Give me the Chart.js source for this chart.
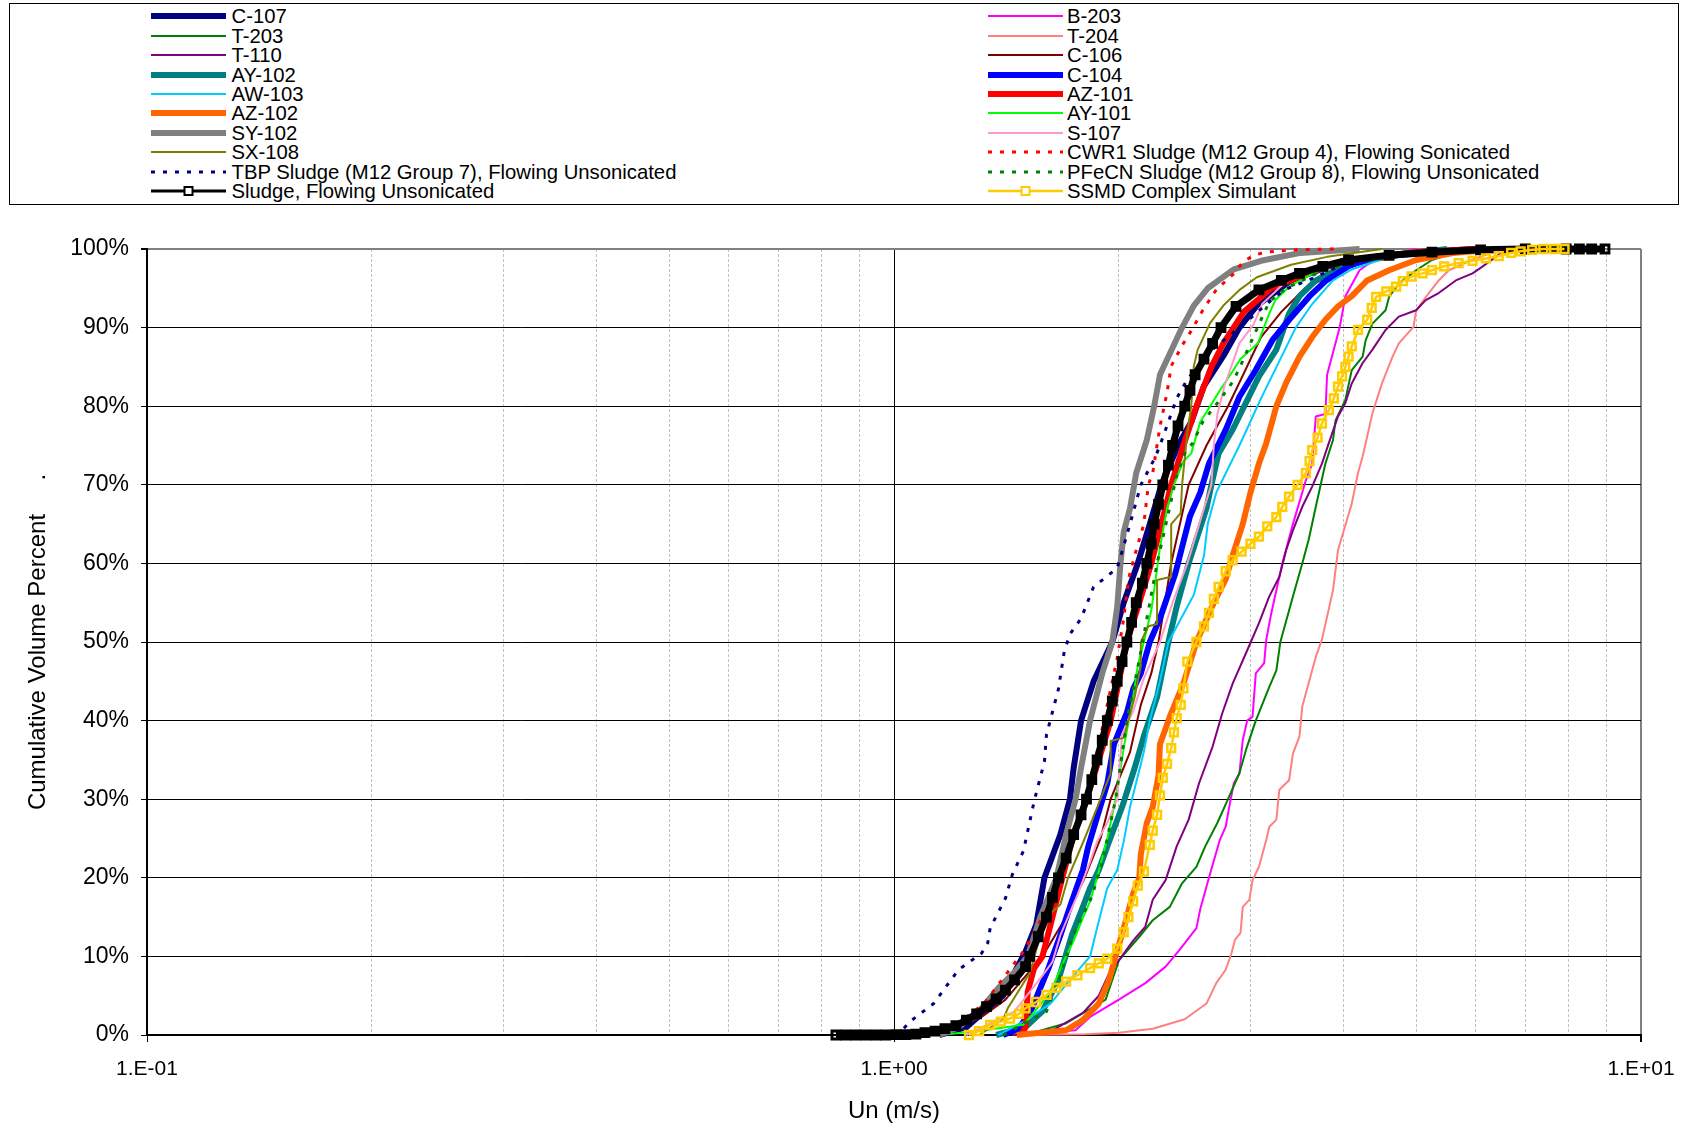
<!DOCTYPE html>
<html><head><meta charset="utf-8">
<script src="https://cdn.jsdelivr.net/npm/chart.js@4.4.1/dist/chart.umd.min.js"></script>
<style>
html,body{margin:0;padding:0;background:#fff;}
body{width:1682px;height:1128px;position:relative;overflow:hidden;font-family:"Liberation Sans",Arial,sans-serif;}
#legend{position:absolute;left:9px;top:3px;width:1668px;height:200px;border:1px solid #000;}
.item{position:absolute;height:20px;font-size:20.3px;line-height:20px;white-space:nowrap;color:#000;}
.item svg{position:absolute;left:0;top:0;overflow:visible;}
#wrap{position:absolute;left:0;top:210px;width:1682px;height:918px;}
</style></head>
<body>
<div id="legend"></div>
<div id="wrap"><canvas id="c"></canvas></div>
<script>
// ---- data (x = Un in m/s, y = cumulative volume percent) ----
const C107 = [[1.15,0],[1.25,1],[1.32,3],[1.40,5],[1.46,8.5],[1.50,10.6],[1.55,14],[1.59,20],[1.67,25.5],[1.72,30],[1.74,34],[1.78,40],[1.85,45],[1.96,50],[2.03,55],[2.12,60],[2.20,65],[2.28,70],[2.40,75],[2.50,78],[2.60,82.6],[2.76,86.4],[2.90,90],[3.06,92.8],[3.40,96],[4.0,98.5],[5.0,99.6],[6.0,100]];
const B203 = [[1.44,0],[1.75,0.6],[1.83,2.3],[2.0,4.5],[2.17,6.6],[2.31,8.7],[2.41,10.8],[2.54,13.6],[2.57,16],[2.64,20],[2.73,24.8],[2.78,26.5],[2.81,29],[2.85,32],[2.90,33.3],[2.93,37.5],[2.97,40],[3.02,40.5],[3.05,46],[3.13,47.3],[3.15,50.3],[3.20,53.7],[3.31,60],[3.42,65],[3.56,70.6],[3.63,72.7],[3.67,78.7],[3.78,79],[3.80,84],[3.95,90],[4.02,94],[4.2,97.3],[4.3,98],[4.5,99],[5.0,100]];
const T203 = [[1.5,0],[1.70,1.5],[1.92,4.5],[2.0,9.5],[2.13,12.5],[2.22,14.6],[2.34,16.3],[2.43,19.3],[2.54,21.4],[2.61,24],[2.71,27],[2.80,30],[2.90,33.3],[2.96,36.3],[3.05,40],[3.18,44.3],[3.25,46.4],[3.29,50],[3.42,55.8],[3.52,60],[3.59,63],[3.67,67.2],[3.78,72.7],[3.87,75.7],[3.90,78.2],[4.02,80.8],[4.10,84.6],[4.24,86.3],[4.28,88.4],[4.37,90.5],[4.55,92.2],[4.60,93.9],[4.74,95.6],[5.0,97.3],[5.25,98.6],[5.6,99.5],[6.5,100]];
const T204 = [[1.50,0],[1.8,0.1],[2.0,0.3],[2.22,0.8],[2.45,2],[2.62,4],[2.70,6.6],[2.78,8.3],[2.83,10.4],[2.86,12.1],[2.91,13],[2.93,16.3],[2.99,17.2],[3.02,19.7],[3.08,21.4],[3.15,24.8],[3.18,26.5],[3.25,27.4],[3.28,31.2],[3.38,32.4],[3.42,35.8],[3.49,38],[3.52,41.8],[3.56,43.5],[3.67,48.1],[3.74,50.3],[3.87,56.6],[3.93,61.7],[4.10,67.6],[4.18,71.5],[4.24,73.6],[4.37,79.1],[4.50,82.9],[4.65,86.3],[4.74,88],[4.96,90.1],[5.0,92.2],[5.2,94.4],[5.36,96],[5.53,97.3],[5.9,98.5],[6.3,99.5],[7.0,100]];
const T110 = [[1.44,0],[1.63,0.6],[1.79,2.8],[1.88,5],[1.94,7.8],[2.0,9.5],[2.09,12],[2.17,13.8],[2.22,17.2],[2.31,19.7],[2.39,24],[2.48,27.4],[2.56,32],[2.67,36.7],[2.75,40.9],[2.84,44.7],[2.96,48.6],[3.08,52.4],[3.18,55.8],[3.28,58.3],[3.35,61.7],[3.42,64.2],[3.52,67.2],[3.63,69.8],[3.74,72.7],[3.82,75.3],[3.93,78.7],[4.02,80.4],[4.10,82.9],[4.24,85.5],[4.37,87.2],[4.55,89.7],[4.74,91.4],[5.0,92.2],[5.15,93.5],[5.36,94.4],[5.65,96],[5.95,96.9],[6.12,97.7],[6.5,99.5],[7.0,100]];
const C106 = [[1.15,0],[1.31,2.3],[1.41,4.5],[1.58,10],[1.70,15],[1.80,20],[1.89,25],[1.95,30],[2.07,36],[2.14,42],[2.21,46],[2.26,50],[2.35,60],[2.48,70],[2.62,75],[2.80,80],[2.90,83],[3.10,88.8],[3.30,92],[3.55,95],[4.1,98],[5.5,100]];
const AY102 = [[1.37,0],[1.50,1],[1.58,3],[1.66,7],[1.73,12.7],[1.78,15.7],[1.83,18.7],[1.88,21],[1.94,24.6],[2.02,29],[2.10,34],[2.16,38],[2.25,43],[2.33,50],[2.39,54.5],[2.48,60],[2.62,67],[2.66,70],[2.72,74],[2.84,77],[3.08,83.8],[3.25,87.2],[3.38,91.8],[3.49,94],[3.67,96],[4.0,97.8],[4.5,99],[5.5,100]];
const C104 = [[1.40,0],[1.47,0.8],[1.53,3.4],[1.57,6],[1.61,8.5],[1.67,12.7],[1.73,17],[1.79,21],[1.82,24],[1.86,27],[1.93,32],[1.97,37],[2.05,41],[2.09,44],[2.14,46],[2.20,50],[2.27,53],[2.38,58.7],[2.49,66],[2.57,69],[2.64,72.7],[2.78,77],[2.90,81.2],[3.05,84.6],[3.21,88.4],[3.38,91],[3.6,94],[3.79,96],[4.06,97.8],[4.4,99],[6.0,100]];
const AW103 = [[1.38,0],[1.49,1.7],[1.62,4],[1.72,7],[1.83,10],[1.87,13.6],[1.93,18.7],[1.99,21],[2.03,24.6],[2.07,29],[2.16,36],[2.20,40],[2.27,45],[2.33,50],[2.52,56],[2.60,61],[2.63,65],[2.70,69],[2.90,75],[3.10,81],[3.45,90],[3.63,93],[3.87,96],[4.1,97.4],[4.6,99],[6.0,100]];
const AZ101 = [[1.48,0],[1.50,1],[1.51,5.5],[1.54,8.5],[1.58,10],[1.63,15],[1.68,20],[1.74,25.5],[1.81,30],[1.88,35],[1.95,40],[2.00,45],[2.05,50],[2.13,55],[2.21,60],[2.28,65],[2.35,70],[2.44,75],[2.54,80],[2.66,85],[2.76,88],[2.94,92],[3.2,95],[3.6,97],[4.0,98.5],[5.0,99.6],[6.0,100]];
const AZ102 = [[1.46,0],[1.70,0.6],[1.79,1.9],[1.88,4],[1.94,7],[1.98,10],[2.05,15],[2.09,18],[2.13,20],[2.14,23],[2.18,27],[2.22,29],[2.26,33],[2.27,37],[2.34,40.5],[2.44,44.7],[2.54,50],[2.68,55],[2.78,58],[2.84,61],[2.93,65],[3.00,69],[3.08,72.7],[3.15,75.3],[3.25,80],[3.35,83],[3.49,86.3],[3.63,88.8],[3.78,91],[3.93,92.7],[4.1,94],[4.3,96],[4.6,97.3],[5.0,98.6],[5.6,99.5],[6.5,100]];
const AY101 = [[1.15,0],[1.30,0.5],[1.49,1.3],[1.58,4.2],[1.63,6],[1.68,9],[1.74,12],[1.79,14.9],[1.83,17],[1.87,20],[1.93,25],[1.98,30],[2.03,36.5],[2.09,43],[2.12,47],[2.16,50],[2.21,54],[2.24,58],[2.27,62],[2.32,67],[2.37,70],[2.44,73],[2.50,74],[2.57,78],[2.65,80],[2.73,82],[2.82,84],[2.91,86],[3.07,88],[3.18,91.8],[3.24,93.5],[3.38,95.2],[3.67,97.1],[3.9,98],[4.3,99],[5.5,100]];
const SY102 = [[1.15,0],[1.22,1],[1.30,3],[1.38,6],[1.45,8],[1.51,10],[1.57,15],[1.65,20],[1.70,25.5],[1.75,30],[1.78,34],[1.83,40],[1.90,46],[1.96,50],[1.99,54.5],[2.01,60],[2.03,64],[2.07,67],[2.11,71.5],[2.18,75.7],[2.23,80],[2.27,84],[2.43,90],[2.52,92.8],[2.63,95],[2.85,97.4],[3.1,98.5],[3.5,99.5],[4.2,100]];
const S107 = [[1.25,0],[1.45,3],[1.57,7.2],[1.63,9.3],[1.67,12.7],[1.76,17.8],[1.83,22],[1.87,24.6],[1.93,27],[1.99,30],[2.02,38.2],[2.09,41.2],[2.16,45.4],[2.27,50],[2.36,55],[2.47,60],[2.60,67],[2.66,70],[2.68,75],[2.71,79],[2.77,82.6],[2.90,88],[3.03,90.4],[3.11,93],[3.42,96.7],[3.7,98],[4.2,99],[5.5,100]];
const SX108 = [[1.30,0],[1.40,2],[1.42,3.4],[1.47,5.7],[1.52,7.9],[1.57,12.7],[1.60,15],[1.67,16.6],[1.71,20],[1.80,25],[1.89,30],[1.95,33.3],[1.95,37.4],[2.03,37.8],[2.10,43],[2.14,47],[2.14,50],[2.19,52],[2.25,52.3],[2.25,57.9],[2.35,58.3],[2.35,65],[2.42,66.4],[2.43,70],[2.47,76.6],[2.50,80],[2.52,85.1],[2.55,87.2],[2.65,90.6],[2.76,92.8],[2.91,94.9],[3.06,96.4],[3.4,98],[3.8,99],[4.5,100]];
const CWR1 = [[1.05,0],[1.20,1],[1.32,4],[1.42,8],[1.50,11],[1.60,16],[1.70,22],[1.78,28],[1.86,35],[1.93,42],[1.99,48],[2.03,53],[2.06,58],[2.11,61.7],[2.16,65],[2.19,70],[2.22,71.5],[2.27,77.4],[2.32,81.7],[2.35,85.1],[2.43,87.7],[2.50,89.6],[2.59,92.2],[2.70,94.8],[2.86,97],[2.93,98.3],[3.03,99.2],[3.14,99.6],[3.46,99.9],[3.9,100]];
const TBP = [[1.0,0],[1.03,0.8],[1.05,1.7],[1.13,4],[1.22,8.3],[1.31,10.4],[1.335,11.7],[1.345,13.6],[1.41,17.4],[1.44,20.4],[1.49,23.4],[1.54,29.7],[1.59,34.8],[1.60,38.2],[1.66,44],[1.69,48.8],[1.72,51],[1.78,53],[1.85,57],[1.99,59.4],[2.07,65],[2.14,70],[2.24,73.6],[2.29,76],[2.39,81],[2.47,83.4],[2.65,87],[2.90,90],[3.20,93.5],[3.33,94.8],[3.60,96.1],[3.84,97.3],[3.98,98],[4.5,99.2],[5.5,100]];
const PFECN = [[1.40,0],[1.60,3],[1.68,8.3],[1.71,10.8],[1.75,13.4],[1.84,17.6],[1.90,22],[1.98,30],[2.05,40],[2.13,47.7],[2.20,55],[2.25,60],[2.33,66.4],[2.39,71.2],[2.45,74],[2.51,75.3],[2.59,78],[2.73,80.8],[2.84,83.1],[2.90,84.8],[3.0,88],[3.10,91],[3.18,93.3],[3.35,95],[3.7,97],[4.0,98],[4.6,99.3],[5.5,100]];
const SLUDGE = [[0.836,0],[0.862,0],[0.889,0],[0.917,0],[0.946,0],[0.975,0],[1.006,0.05],[1.037,0.05],[1.07,0.1],[1.10,0.3],[1.135,0.5],[1.17,0.8],[1.21,1.2],[1.25,1.9],[1.29,2.7],[1.33,3.6],[1.37,4.6],[1.41,5.7],[1.45,7],[1.50,8.7],[1.52,10],[1.56,12.5],[1.60,15],[1.63,17.5],[1.66,20],[1.70,22.5],[1.74,25.5],[1.78,28],[1.81,30],[1.84,32.5],[1.87,35],[1.90,37.5],[1.93,40],[1.96,42.5],[1.99,45],[2.02,47.5],[2.05,50],[2.08,52.5],[2.11,55],[2.15,57.5],[2.18,60],[2.21,62.5],[2.23,65],[2.26,67.5],[2.29,70],[2.33,72.5],[2.36,75],[2.40,77.5],[2.45,80],[2.49,82],[2.53,84],[2.60,86],[2.67,88],[2.74,90],[2.87,92.7],[3.08,94.8],[3.3,96],[3.49,96.9],[3.75,97.8],[4.06,98.6],[4.6,99.2],[5.25,99.6],[6.1,99.9],[7.0,100],[7.94,100],[8.27,100],[8.59,100],[8.95,100]];
const SSMD = [[1.26,0],[1.30,0.5],[1.345,1.3],[1.39,1.7],[1.43,2.1],[1.47,2.7],[1.50,3.4],[1.55,4.2],[1.60,5.1],[1.65,6],[1.70,6.8],[1.76,7.6],[1.83,8.5],[1.88,9.1],[1.93,9.7],[1.99,11],[2.03,13.1],[2.06,15],[2.09,17],[2.12,19],[2.16,20.8],[2.20,24.2],[2.22,26],[2.25,28],[2.27,30.5],[2.29,32.7],[2.32,34.5],[2.35,36.5],[2.37,38.5],[2.39,40.3],[2.42,42],[2.44,44.1],[2.47,47.5],[2.54,50],[2.60,52],[2.64,53.7],[2.68,55.5],[2.72,57],[2.78,59],[2.84,60.4],[2.92,61.5],[3.0,62.5],[3.08,63.4],[3.16,64.7],[3.25,65.9],[3.31,67.2],[3.38,68.5],[3.47,70],[3.56,71.5],[3.60,73],[3.63,74.4],[3.69,76],[3.74,77.8],[3.82,79.5],[3.88,81],[3.93,82.5],[3.98,83.8],[4.02,85],[4.06,86.3],[4.10,87.6],[4.18,89.7],[4.30,91],[4.36,92.5],[4.42,93.9],[4.56,94.6],[4.70,95.2],[4.80,95.9],[4.93,96.5],[5.10,96.9],[5.25,97.3],[5.45,97.8],[5.70,98.2],[5.95,98.5],[6.20,98.8],[6.45,99.1],[6.70,99.5],[6.90,99.7],[7.15,99.9],[7.40,100],[7.65,100],[7.90,100]];

const seriesNames = ['C-107','B-203','T-203','T-204','T-110','C-106','AY-102','C-104','AW-103','AZ-101','AZ-102','AY-101','SY-102','S-107','SX-108','CWR1 Sludge (M12 Group 4), Flowing Sonicated','TBP Sludge (M12 Group 7), Flowing Unsonicated','PFeCN Sludge (M12 Group 8), Flowing Unsonicated','Sludge, Flowing Unsonicated','SSMD Complex Simulant'];
const seriesData = [C107,B203,T203,T204,T110,C106,AY102,C104,AW103,AZ101,AZ102,AY101,SY102,S107,SX108,CWR1,TBP,PFECN,SLUDGE,SSMD];

const xTickValues = [0.1,0.2,0.3,0.4,0.5,0.6,0.7,0.8,0.9,1,2,3,4,5,6,7,8,9,10];
const xTickLabels = ['1.E-01','','','','','','','','','1.E+00','','','','','','','','','1.E+01'];
const yTickValues = [0,10,20,30,40,50,60,70,80,90,100];
const yTickLabels = ['0%','10%','20%','30%','40%','50%','60%','70%','80%','90%','100%'];

// ---- styles ----
const styles = {
  'C-107':{c:'#000080',w:6},
  'B-203':{c:'#FF00FF',w:2},
  'T-203':{c:'#008000',w:2},
  'T-204':{c:'#FF8080',w:2},
  'T-110':{c:'#800080',w:2},
  'C-106':{c:'#800000',w:2},
  'AY-102':{c:'#008080',w:6},
  'C-104':{c:'#0000FF',w:6},
  'AW-103':{c:'#00CCFF',w:2},
  'AZ-101':{c:'#FF0000',w:6},
  'AZ-102':{c:'#FF6600',w:6},
  'AY-101':{c:'#00FF00',w:2},
  'SY-102':{c:'#808080',w:6},
  'S-107':{c:'#FF99CC',w:2},
  'SX-108':{c:'#808000',w:2},
  'CWR1 Sludge (M12 Group 4), Flowing Sonicated':{c:'#FF0000',w:3,d:[4,8]},
  'TBP Sludge (M12 Group 7), Flowing Unsonicated':{c:'#000080',w:3,d:[4,8]},
  'PFeCN Sludge (M12 Group 8), Flowing Unsonicated':{c:'#008000',w:3,d:[4,8]},
  'Sludge, Flowing Unsonicated':{c:'#000000',w:3,pw:7,m:true,r:5.5,pb:3},
  'SSMD Complex Simulant':{c:'#FFCC00',w:2.5,m:true,r:5.5,pb:2.5}
};

// ---- HTML legend (two columns) ----
const leftCol = ['C-107','T-203','T-110','AY-102','AW-103','AZ-102','SY-102','SX-108','TBP Sludge (M12 Group 7), Flowing Unsonicated','Sludge, Flowing Unsonicated'];
const rightCol = ['B-203','T-204','C-106','C-104','AZ-101','AY-101','S-107','CWR1 Sludge (M12 Group 4), Flowing Sonicated','PFeCN Sludge (M12 Group 8), Flowing Unsonicated','SSMD Complex Simulant'];
const leg = document.body;
function addItem(name, col, row) {
  const s = styles[name];
  const cy = 16.3 + 19.42 * row;
  const lx = col === 0 ? 151 : 988;
  const tx = col === 0 ? 231.5 : 1067;
  const div = document.createElement('div');
  div.className = 'item';
  div.style.left = lx + 'px';
  div.style.top = (cy - 10) + 'px';
  let svg = '<svg width="76" height="20"><line x1="0" y1="10" x2="75" y2="10" stroke="' + s.c + '" stroke-width="' + s.w + '"' + (s.d ? ' stroke-dasharray="' + s.d.join(',') + '"' : '') + '/>';
  if (s.m) svg += '<rect x="33.5" y="6" width="8" height="8" fill="#fff" stroke="' + s.c + '" stroke-width="2"/>';
  svg += '</svg>';
  div.innerHTML = svg + '<span style="position:absolute;left:' + (tx - lx) + 'px;top:0">' + name + '</span>';
  leg.appendChild(div);
}
leftCol.forEach((n, i) => addItem(n, 0, i));
rightCol.forEach((n, i) => addItem(n, 1, i));

// ---- chart ----
Chart.defaults.font.family = '"Liberation Sans", Arial, sans-serif';
Chart.defaults.color = '#000';
const N = seriesNames.length;
const datasets = seriesNames.map((name, i) => {
  const s = styles[name];
  return {
    label: name,
    data: seriesData[i].map(p => ({x: p[0], y: p[1]})),
    borderColor: s.c,
    borderWidth: s.pw || s.w,
    borderDash: s.d || [],
    borderJoinStyle: 'round',
    backgroundColor: 'rgba(0,0,0,0)',
    pointRadius: s.m ? s.r : 0,
    pointStyle: 'rect',
    pointBorderColor: s.c,
    pointBackgroundColor: 'rgba(0,0,0,0)',
    pointBorderWidth: s.pb || 2,
    pointHoverRadius: 0,
    tension: 0,
    fill: false,
    clip: false,
    order: N - i
  };
});
const majors = [0.1, 1, 10];
new Chart(document.getElementById('c'), {
  type: 'line',
  data: {datasets},
  options: {
    responsive: true,
    maintainAspectRatio: false,
    animation: false,
    devicePixelRatio: 1,
    events: [],
    layout: {padding: {top: 39, right: 41, left: 0, bottom: 0}},
    plugins: {legend: {display: false}, tooltip: {enabled: false}},
    scales: {
      x: {
        type: 'logarithmic',
        min: 0.1, max: 10,
        afterBuildTicks: (sc) => { sc.ticks = xTickValues.map(v => ({value: v})); },
        afterFit: (sc) => { sc.height = 93; },
        ticks: {
          autoSkip: false, maxRotation: 0, minRotation: 0, padding: 4,
          font: {size: 21, lineHeight: 2.2},
          callback: (v, i) => xTickLabels[i]
        },
        grid: {
          color: (ctx) => {
            const v = ctx.tick ? ctx.tick.value : null;
            if (v === 10) return '#808080';
            if (v === 1 || v === 0.1) return '#000';
            return '#c0c0c0';
          },
          lineWidth: (ctx) => (ctx.tick && ctx.tick.value === 10) ? 2 : 1,
          tickColor: (ctx) => (ctx.tick && majors.includes(ctx.tick.value)) ? '#000' : 'rgba(0,0,0,0)',
          tickLength: 7
        },
        border: {
          display: true, color: '#000', width: 2,
          dash: (ctx) => (ctx.tick && !majors.includes(ctx.tick.value)) ? [3, 2] : []
        },
        title: {display: true, text: 'Un (m/s)', font: {size: 24}, padding: {top: 0, bottom: 2}}
      },
      y: {
        type: 'linear',
        min: 0, max: 100,
        afterBuildTicks: (sc) => { sc.ticks = yTickValues.map(v => ({value: v})); },
        afterFit: (sc) => { sc.width = 147; },
        ticks: {
          padding: 12,
          font: {size: 23},
          callback: (v, i) => yTickLabels[i]
        },
        grid: {
          color: (ctx) => (ctx.tick && ctx.tick.value === 100) ? '#808080' : '#000',
          lineWidth: (ctx) => (ctx.tick && ctx.tick.value === 100) ? 2 : 1,
          tickColor: '#000',
          tickLength: 6
        },
        border: {display: true, color: '#000', width: 2},
        title: {display: true, text: 'Cumulative Volume Percent     .', font: {size: 24}, padding: {top: 24, bottom: 0}}
      }
    }
  }
});
</script>
</body></html>
